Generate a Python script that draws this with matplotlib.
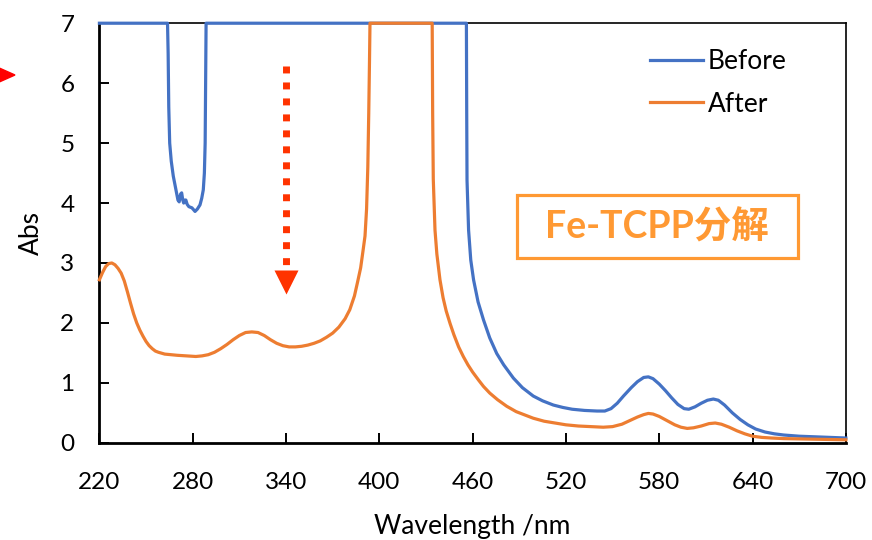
import matplotlib
matplotlib.use('Agg')
import matplotlib.pyplot as plt
from matplotlib.patches import Rectangle, Polygon

plt.rcParams['font.family'] = ['Lato', 'Noto Sans CJK SC', 'DejaVu Sans']

# UV-vis spectra (wavelength nm, absorbance)
wl_before = [220, 263.8, 264.2, 264.6, 265.2, 266.2, 267.5, 269, 270.5, 271.3,
             272.2, 272.9, 273.6, 274.2, 275, 275.6, 276.4, 277.5, 279.5, 281.5,
             283, 284.7, 285.8, 286.8, 287.5, 288, 288.3, 288.6,
             456, 456.2, 456.4, 457.4, 458.8, 460.6, 463.5, 467, 471, 475.5,
             480, 486.2, 492, 499, 505, 511.9, 518, 524, 532, 540, 545, 549,
             553, 557, 562, 566, 570, 573, 576, 580, 584, 588, 592, 596, 599,
             603, 607, 611, 614.8, 618, 622, 627, 632, 637, 642, 648, 654, 660,
             670, 680, 690, 700]
abs_before = [7, 7, 6.5, 5.6, 5.0, 4.7, 4.45, 4.25, 4.05, 4.02,
              4.15, 4.17, 4.05, 4.0, 4.05, 4.05, 3.98, 3.94, 3.92, 3.86,
              3.9, 3.97, 4.08, 4.22, 4.5, 5.0, 6.0, 7,
              7, 5.5, 4.38, 3.55, 3.05, 2.72, 2.35, 2.05, 1.75, 1.49,
              1.30, 1.08, 0.92, 0.78, 0.70, 0.63, 0.59, 0.56, 0.54, 0.53, 0.53, 0.57,
              0.66, 0.78, 0.92, 1.02, 1.09, 1.10, 1.07, 0.98, 0.87, 0.75, 0.64, 0.57, 0.56,
              0.60, 0.66, 0.71, 0.73, 0.71, 0.63, 0.50, 0.39, 0.30, 0.23, 0.18, 0.15, 0.13,
              0.11, 0.10, 0.09, 0.08]

wl_after = [220, 222, 224, 226, 228, 230, 232, 234, 236, 238, 240, 242, 244,
            246, 248, 250, 252, 254, 256, 258, 262, 266, 270, 276, 282, 286,
            290, 294, 298, 302, 306, 310, 314, 318, 322, 326, 330, 334, 338,
            342, 346, 350, 354, 358, 362, 366, 370, 374, 378, 381, 384, 386,
            388, 389.5, 390.8, 391.8, 392.6, 393.2, 393.7, 394,
            434, 434.3, 434.7, 435.8, 437, 439, 441, 443, 445.5, 448, 451, 454,
            457, 460, 464, 467, 471, 476, 481.9, 488, 494, 499, 506, 513, 520,
            528, 536, 544, 550, 556, 561, 566, 570, 573, 576, 580, 585, 590,
            594, 598, 602, 607, 612, 616, 620, 625, 630, 635, 640, 646, 652,
            660, 670, 680, 690, 700]
abs_after = [2.72, 2.84, 2.94, 2.99, 3.0, 2.97, 2.91, 2.83, 2.70, 2.52, 2.33, 2.15, 2.00,
             1.88, 1.78, 1.69, 1.62, 1.57, 1.53, 1.51, 1.48, 1.47, 1.46, 1.45, 1.44, 1.45,
             1.47, 1.51, 1.57, 1.64, 1.72, 1.79, 1.84, 1.85, 1.84, 1.79, 1.72, 1.66, 1.62,
             1.60, 1.60, 1.61, 1.63, 1.66, 1.70, 1.76, 1.83, 1.93, 2.07, 2.22, 2.45, 2.68,
             2.92, 3.2, 3.45, 3.9, 4.6, 5.5, 6.4, 7,
             7, 5.5, 4.4, 3.55, 3.15, 2.72, 2.42, 2.2, 1.99, 1.8, 1.6, 1.44,
             1.3, 1.18, 1.04, 0.94, 0.83, 0.72, 0.61, 0.52, 0.46, 0.41, 0.36, 0.33, 0.30,
             0.28, 0.27, 0.26, 0.27, 0.31, 0.37, 0.43, 0.47, 0.49, 0.48, 0.44, 0.37, 0.30,
             0.26, 0.24, 0.25, 0.28, 0.32, 0.33, 0.31, 0.26, 0.20, 0.15, 0.11, 0.09, 0.08,
             0.07, 0.065, 0.06, 0.055, 0.05]

xticks = [220, 280, 340, 400, 460, 520, 580, 640, 700]
yticks = [0, 1, 2, 3, 4, 5, 6, 7]

fig = plt.figure(figsize=(8.72, 5.4), dpi=100)
ax = fig.add_axes([0.114, 0.180, 0.856, 0.777])

ax.plot(wl_before, abs_before, color='#4472C4', lw=2.3, label='Before',
        clip_on=False, solid_joinstyle='round', zorder=3)
ax.plot(wl_after, abs_after, color='#ED7D31', lw=2.3, label='After',
        clip_on=False, solid_joinstyle='round', zorder=4)

ax.set_xlim(220, 700)
ax.set_ylim(0, 7)
ax.set_xticks(xticks)
ax.set_yticks(yticks)
ax.tick_params(direction='in', length=7, width=1.4, labelsize=17.5)
ax.tick_params(axis='x', pad=21)
ax.tick_params(axis='y', pad=18)
for s in ['left', 'bottom']:
    ax.spines[s].set_linewidth(2)
for s in ['top', 'right']:
    ax.spines[s].set_linewidth(1.2)

ax.set_xlabel('Wavelength /nm', fontsize=19, labelpad=15)
ax.set_ylabel('Abs', fontsize=19, labelpad=12)

leg = ax.legend(loc='upper left', bbox_to_anchor=(0.7377, 0.938), frameon=False,
                fontsize=19, handlelength=2.0, handletextpad=0.2,
                labelspacing=0.66, borderpad=0, borderaxespad=0)

# dotted red arrow
ax.plot([340, 340], [6.29, 2.97], color='#FF3300', lw=5, dashes=(1, 1.3),
        solid_capstyle='butt', dash_capstyle='butt')
ax.plot([340], [2.69], marker='v', ms=17, color='#FF3300', mec='none')

# label box
ax.add_patch(Rectangle((0.559, 0.4397), 0.377, 0.151, transform=ax.transAxes,
                       fill=False, ec='#FF9933', lw=2.3))
ax.text(0.7475, 0.515, 'Fe-TCPP分解', transform=ax.transAxes, ha='center',
        va='center', fontsize=27, fontweight='bold', color='#FF9933')

# clipped red marker at left edge
fig.add_artist(Polygon([(-12 / 872, 1 - 63 / 540), (15 / 872, 1 - 75 / 540),
                        (-12 / 872, 1 - 87 / 540)], closed=True,
                       transform=fig.transFigure, color='#FF0000'))

fig.savefig('out.png', dpi=100)
